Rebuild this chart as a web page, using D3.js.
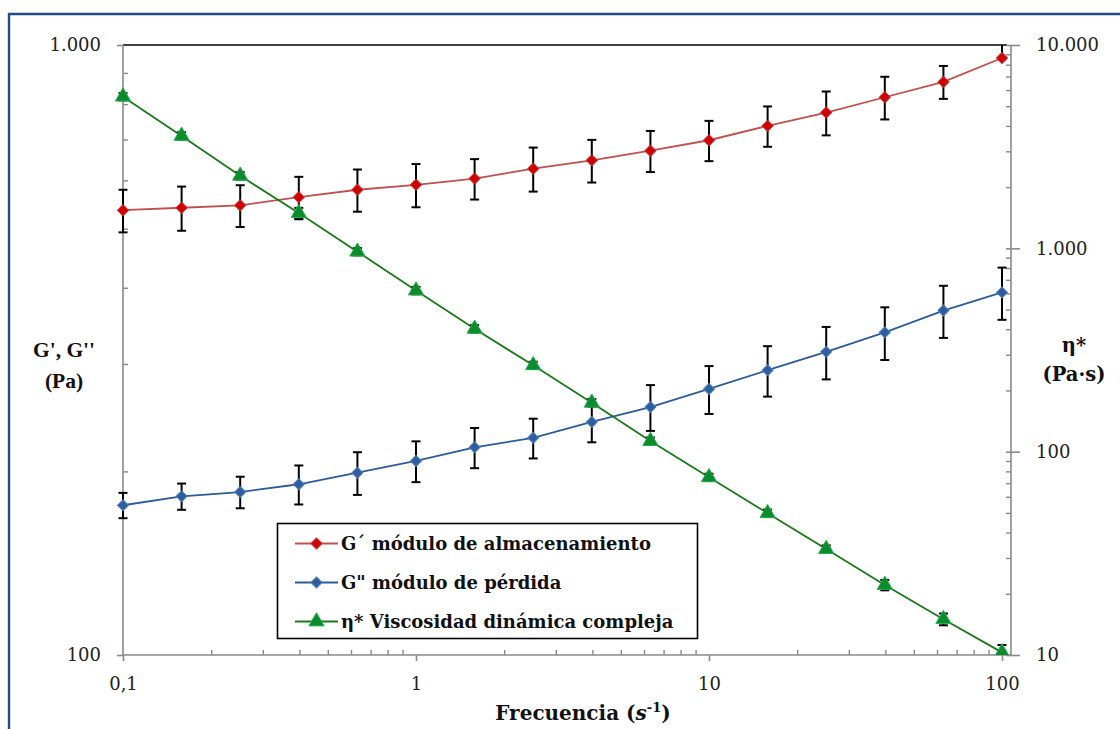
<!DOCTYPE html>
<html>
<head>
<meta charset="utf-8">
<script src="https://cdn.jsdelivr.net/npm/d3@7"></script>
<style>
  html, body { margin: 0; padding: 0; background: #fff; }
  svg { display: block; }
</style>
</head>
<body>
<svg id="chart" width="1120" height="729"></svg>
<script>
// ---------- data ----------
const freq = [0.1, 0.1585, 0.2512, 0.3981, 0.631, 1, 1.585, 2.512, 3.981, 6.31, 10, 15.85, 25.12, 39.81, 63.1, 100];
const gPrime = [536, 541, 546, 563, 579, 590, 604, 627, 647, 671, 698, 737, 775, 821, 870, 952];
const gPrimeErrPlus = [43, 45, 43, 45, 46, 48, 46, 52, 52, 52, 53, 56, 64, 66, 54, 60];
const gPrimeErrMinus = [43, 45, 43, 45, 46, 48, 46, 52, 52, 52, 53, 56, 64, 66, 54, 0];
const gDouble = [176, 182, 185, 190.5, 199, 208, 219, 227, 241, 255, 273, 293, 314, 338, 367, 393];
const gDoubleErr = [8.4, 9, 11, 14, 16, 16, 16.6, 17, 17.8, 22, 24.6, 27.8, 31, 33.5, 36, 38.6];
const eta = [5572, 3573, 2274, 1491, 963, 620, 402, 266, 174, 112.8, 74.8, 49.8, 33.2, 22.1, 15.0, 10.3];
const etaErr = [230, 150, 95, 90, 40, 26, 17, 11, 7.5, 4.6, 3.1, 2.1, 1.4, 1.3, 1.0, 0.9];

const xTickValues = [0.1, 1, 10, 100];
const xTickLabels = ["0,1", "1", "10", "100"];
const leftTickValues = [100, 1000];
const leftTickLabels = ["100", "1.000"];
const rightTickValues = [10, 100, 1000, 10000];
const rightTickLabels = ["10", "100", "1.000", "10.000"];

const seriesNames = ["G´ módulo de almacenamiento", "G\" módulo de pérdida", "η* Viscosidad dinámica compleja"];

// ---------- layout ----------
const svg = d3.select("#chart");
const X0 = 123, X1 = 1002, XR = 1011, Y0 = 655, Y1 = 45;
const axisColor = "#8a8a8a";
const tickFont = "'DejaVu Serif', serif";

const x = d3.scaleLog().domain([0.1, 100]).range([X0, X1]);
const yL = d3.scaleLog().domain([100, 1000]).range([Y0, Y1]);
const yR = d3.scaleLog().domain([10, 10000]).range([Y0, Y1]);

// outer frame
svg.append("path")
  .attr("d", "M9,729 V14 H1120")
  .attr("fill", "none").attr("stroke", "#1F4E8A").attr("stroke-width", 2.4);

// top black border of plot area
svg.append("line")
  .attr("x1", X0).attr("x2", 1007).attr("y1", Y1).attr("y2", Y1)
  .attr("stroke", "#000").attr("stroke-width", 1.6);

function minorTicks(domainLo, domainHi) {
  const out = [];
  for (let d = domainLo; d < domainHi; d *= 10) {
    for (let k = 2; k <= 9; k++) out.push(d * k);
  }
  return out;
}

// ---------- axes ----------
const gB = svg.append("g").attr("transform", `translate(0,${Y0})`);
gB.append("line").attr("x1", X0).attr("x2", XR + 1).attr("y1", 0).attr("y2", 0)
  .attr("stroke", axisColor).attr("stroke-width", 1.6);
const bMajor = gB.append("g").call(
  d3.axisBottom(x).tickValues(xTickValues).tickFormat((d, i) => xTickLabels[i]).tickSize(6).tickPadding(16).tickSizeOuter(0));
bMajor.select(".domain").remove();
bMajor.selectAll(".tick line").attr("stroke", axisColor).attr("stroke-width", 1.6);
bMajor.selectAll(".tick text").attr("font-family", tickFont).attr("font-size", 18).attr("fill", "#222");
const bMinor = gB.append("g").call(
  d3.axisTop(x).tickValues(minorTicks(0.1, 100)).tickFormat("").tickSize(5).tickSizeOuter(0));
bMinor.select(".domain").remove();
bMinor.selectAll(".tick line").attr("stroke", axisColor).attr("stroke-width", 1.4);

const gL = svg.append("g").attr("transform", `translate(${X0},0)`);
gL.append("line").attr("x1", 0).attr("x2", 0).attr("y1", Y1).attr("y2", Y0)
  .attr("stroke", axisColor).attr("stroke-width", 1.6);
const lMajor = gL.append("g").call(
  d3.axisLeft(yL).tickValues(leftTickValues).tickFormat((d, i) => leftTickLabels[i]).tickSize(6).tickPadding(16).tickSizeOuter(0));
lMajor.select(".domain").remove();
lMajor.selectAll(".tick line").attr("stroke", axisColor).attr("stroke-width", 1.6);
lMajor.selectAll(".tick text").attr("font-family", tickFont).attr("font-size", 18).attr("fill", "#222");
const lMinor = gL.append("g").call(
  d3.axisRight(yL).tickValues(minorTicks(100, 1000)).tickFormat("").tickSize(5).tickSizeOuter(0));
lMinor.select(".domain").remove();
lMinor.selectAll(".tick line").attr("stroke", axisColor).attr("stroke-width", 1.4);

const gR = svg.append("g").attr("transform", `translate(${XR},0)`);
gR.append("line").attr("x1", 0).attr("x2", 0).attr("y1", Y1).attr("y2", Y0)
  .attr("stroke", axisColor).attr("stroke-width", 1.6);
const rMajor = gR.append("g").call(
  d3.axisRight(yR).tickValues(rightTickValues).tickFormat((d, i) => rightTickLabels[i]).tickSize(9).tickPadding(16).tickSizeOuter(0));
rMajor.select(".domain").remove();
rMajor.selectAll(".tick line").attr("stroke", axisColor).attr("stroke-width", 1.6).attr("x1", -5);
rMajor.selectAll(".tick text").attr("font-family", tickFont).attr("font-size", 18).attr("fill", "#222");
const rMinor = gR.append("g").call(
  d3.axisLeft(yR).tickValues(minorTicks(10, 10000)).tickFormat("").tickSize(5).tickSizeOuter(0));
rMinor.select(".domain").remove();
rMinor.selectAll(".tick line").attr("stroke", axisColor).attr("stroke-width", 1.4);

// ---------- axis titles ----------
const leftTitle = svg.append("text").attr("text-anchor", "middle")
  .attr("font-family", "'Liberation Serif', serif").attr("font-weight", "bold").attr("font-size", 21.5).attr("fill", "#111");
leftTitle.append("tspan").attr("x", 64).attr("y", 357).text("G', G''");
leftTitle.append("tspan").attr("x", 64).attr("y", 388).text("(Pa)");

const rightTitle = svg.append("text").attr("text-anchor", "middle")
  .attr("font-family", "'DejaVu Serif', serif").attr("font-weight", "bold").attr("font-size", 19.5).attr("fill", "#111");
rightTitle.append("tspan").attr("x", 1074).attr("y", 352).text("η*");
rightTitle.append("tspan").attr("x", 1074).attr("y", 381).text("(Pa·s)");

const bottomTitle = svg.append("text").attr("text-anchor", "middle")
  .attr("x", 583).attr("y", 720)
  .attr("font-family", "'DejaVu Serif', serif").attr("font-weight", "bold").attr("font-size", 20).attr("fill", "#111");
bottomTitle.append("tspan").text("Frecuencia (");
bottomTitle.append("tspan").attr("font-style", "italic").text("s");
bottomTitle.append("tspan").attr("font-size", 13).attr("dy", -8).text("-1");
bottomTitle.append("tspan").attr("dy", 8).text(")");

// ---------- series ----------
svg.append("defs").append("clipPath").attr("id", "plotClip")
  .append("rect").attr("x", X0 - 20).attr("y", Y1).attr("width", XR - X0 + 40).attr("height", Y0 - Y1);

const plot = svg.append("g").attr("clip-path", "url(#plotClip)");

const diamond = d3.symbol().type(d3.symbolSquare).size(60);
const triangle = d3.symbol().type(d3.symbolTriangle).size(100);

function drawSeries(vals, errPlus, errMinus, yScale, lineColor, markerFill, markerStroke, symbolGen, rot, lineWidth) {
  const pts = freq.map((f, i) => ({ f, v: vals[i], ep: errPlus[i], em: errMinus[i] }));
  const g = plot.append("g");
  g.append("path").datum(pts)
    .attr("d", d3.line().x(d => x(d.f)).y(d => yScale(d.v)))
    .attr("fill", "none").attr("stroke", lineColor).attr("stroke-width", lineWidth);
  const eb = g.selectAll("g.err").data(pts).join("g").attr("class", "err");
  const cap = 4.5;
  eb.append("line")
    .attr("x1", d => x(d.f)).attr("x2", d => x(d.f))
    .attr("y1", d => yScale(d.v + d.ep)).attr("y2", d => yScale(d.v - d.em))
    .attr("stroke", "#000").attr("stroke-width", 2);
  eb.filter(d => d.ep > 0).append("line")
    .attr("x1", d => x(d.f) - cap).attr("x2", d => x(d.f) + cap)
    .attr("y1", d => yScale(d.v + d.ep)).attr("y2", d => yScale(d.v + d.ep))
    .attr("stroke", "#000").attr("stroke-width", 2);
  eb.filter(d => d.em > 0).append("line")
    .attr("x1", d => x(d.f) - cap).attr("x2", d => x(d.f) + cap)
    .attr("y1", d => yScale(d.v - d.em)).attr("y2", d => yScale(d.v - d.em))
    .attr("stroke", "#000").attr("stroke-width", 2);
  g.selectAll("path.mk").data(pts).join("path").attr("class", "mk")
    .attr("transform", d => `translate(${x(d.f)},${yScale(d.v)}) rotate(${rot})`)
    .attr("d", symbolGen)
    .attr("fill", markerFill).attr("stroke", markerStroke).attr("stroke-width", 1);
}

drawSeries(gPrime, gPrimeErrPlus, gPrimeErrMinus, yL, "#C0504D", "#CC0000", "#D42020", diamond, 45, 1.8);
drawSeries(gDouble, gDoubleErr, gDoubleErr, yL, "#2C5B9A", "#2E5E9E", "#4A7BBF", diamond, 45, 1.8);
drawSeries(eta, etaErr, etaErr, yR, "#1A7A1A", "#0B8A2E", "#22B04A", triangle, 0, 1.8);

// ---------- legend ----------
const lg = svg.append("g");
lg.append("rect").attr("x", 277.5).attr("y", 523.5).attr("width", 420).attr("height", 115)
  .attr("fill", "#fff").attr("stroke", "#000").attr("stroke-width", 1.6);
const legendItems = [
  { name: seriesNames[0], line: "#C0504D", fill: "#CC0000", stroke: "#D42020", sym: diamond, rot: 45 },
  { name: seriesNames[1], line: "#2C5B9A", fill: "#2E5E9E", stroke: "#4A7BBF", sym: diamond, rot: 45 },
  { name: seriesNames[2], line: "#1A7A1A", fill: "#0B8A2E", stroke: "#22B04A", sym: triangle, rot: 0 }
];
const rowY = [543.5, 582.5, 621.5];
legendItems.forEach((it, i) => {
  const gy = rowY[i];
  lg.append("line").attr("x1", 295).attr("x2", 338).attr("y1", gy).attr("y2", gy)
    .attr("stroke", it.line).attr("stroke-width", 1.8);
  lg.append("path").attr("transform", `translate(316.5,${gy}) rotate(${it.rot})`).attr("d", it.sym)
    .attr("fill", it.fill).attr("stroke", it.stroke).attr("stroke-width", 1);
  lg.append("text").attr("x", 341).attr("y", gy + 6.5)
    .attr("font-family", "'DejaVu Serif', serif").attr("font-weight", "bold").attr("font-size", 18)
    .attr("fill", "#111").text(it.name);
});
</script>
</body>
</html>
